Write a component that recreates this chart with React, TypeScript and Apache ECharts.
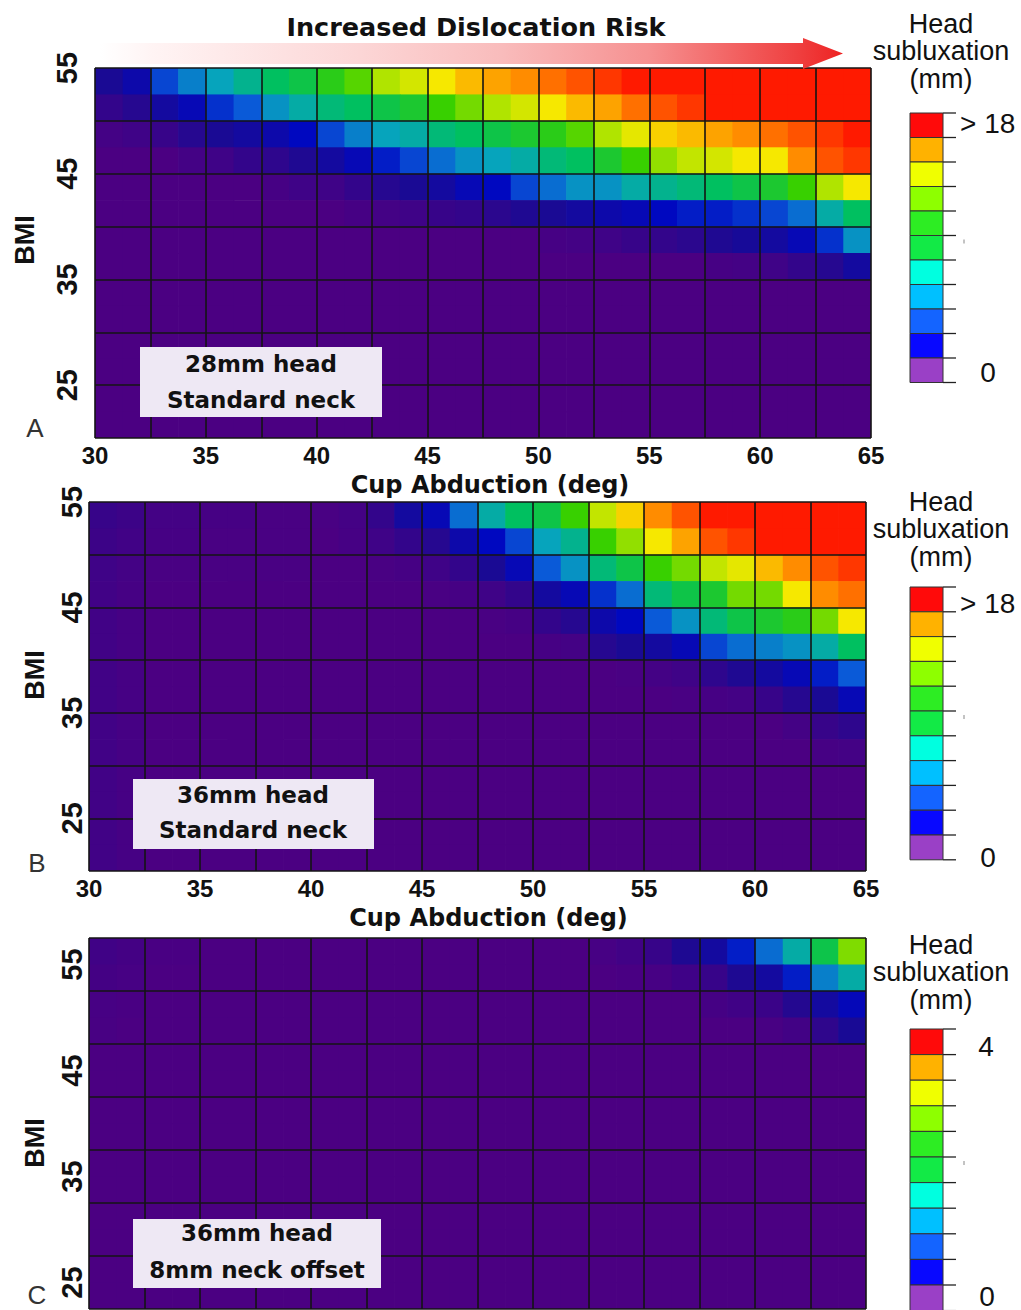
import React, { useEffect, useRef } from 'react';
import * as echarts from 'echarts';

// Sub-cell centres (cup abduction, deg) and BMI rows (top to bottom)
const cupAbduction = [30.625, 31.875, 33.125, 34.375, 35.625, 36.875, 38.125, 39.375, 40.625, 41.875, 43.125, 44.375, 45.625, 46.875, 48.125, 49.375, 50.625, 51.875, 53.125, 54.375, 55.625, 56.875, 58.125, 59.375, 60.625, 61.875, 63.125, 64.375];
const bmiRowsAB = [53.75, 51.25, 48.75, 46.25, 43.75, 41.25, 38.75, 36.25, 33.75, 31.25, 28.75, 26.25, 23.75, 21.25];
const bmiRowsC = [56.25, 53.75, 51.25, 48.75, 46.25, 43.75, 41.25, 38.75, 36.25, 33.75, 31.25, 28.75, 26.25, 23.75];

const xTicks = [30, 35, 40, 45, 50, 55, 60, 65];
const yTicks = [25, 35, 45, 55];

// Panel A: 28mm head, standard neck (head subluxation, mm)
const subluxationA = [
  [2, 3, 5.5, 7, 8, 9, 10, 10.5, 11.5, 12.5, 14, 15, 16, 17, 17.5, 18, 18.5, 19, 19.5, 20, 20, 20, 20, 20, 20, 20, 20, 20],
  [1, 1.5, 2.5, 3.5, 5, 6, 7.5, 8.5, 9.5, 10, 10.5, 11, 12, 13, 14, 15, 16, 17, 17.5, 18.5, 19, 19.5, 20, 20, 20, 20, 20, 20],
  [0.3, 0.5, 0.8, 1.5, 2, 2.5, 3, 4, 5.5, 7, 8, 8.5, 9.5, 10, 10.5, 11, 11.5, 12.5, 14, 15.5, 16.5, 17, 17.5, 18, 18.5, 19, 19.5, 20],
  [0, 0, 0, 0.3, 0.5, 1, 1.2, 1.8, 2.5, 3.5, 4.5, 5.5, 6.5, 7.5, 8, 8.5, 9.5, 10, 11, 12, 13.5, 14.5, 15, 16, 16, 18, 19, 19.5],
  [0, 0, 0, 0, 0, 0, 0.2, 0.5, 0.5, 1, 1.5, 2, 2.5, 3.5, 4, 5.5, 6.5, 7.5, 7.5, 8.5, 9, 9.5, 10, 10.5, 11, 12, 14, 16],
  [0, 0, 0, 0, 0, 0, 0, 0, 0, 0.2, 0.3, 0.5, 0.8, 1, 1.3, 1.8, 2, 2.5, 3, 3.5, 4, 4.5, 4.5, 5, 5.5, 6.5, 8.5, 10],
  [0, 0, 0, 0, 0, 0, 0, 0, 0, 0, 0, 0, 0, 0, 0, 0, 0.2, 0.3, 0.5, 0.8, 1, 1.3, 1.8, 2.2, 2.5, 3.5, 5, 7.5],
  [0, 0, 0, 0, 0, 0, 0, 0, 0, 0, 0, 0, 0, 0, 0, 0, 0, 0, 0, 0, 0, 0, 0.2, 0.3, 0.5, 1, 1.5, 2.5],
  [0, 0, 0, 0, 0, 0, 0, 0, 0, 0, 0, 0, 0, 0, 0, 0, 0, 0, 0, 0, 0, 0, 0, 0, 0, 0, 0, 0],
  [0, 0, 0, 0, 0, 0, 0, 0, 0, 0, 0, 0, 0, 0, 0, 0, 0, 0, 0, 0, 0, 0, 0, 0, 0, 0, 0, 0],
  [0, 0, 0, 0, 0, 0, 0, 0, 0, 0, 0, 0, 0, 0, 0, 0, 0, 0, 0, 0, 0, 0, 0, 0, 0, 0, 0, 0],
  [0, 0, 0, 0, 0, 0, 0, 0, 0, 0, 0, 0, 0, 0, 0, 0, 0, 0, 0, 0, 0, 0, 0, 0, 0, 0, 0, 0],
  [0, 0, 0, 0, 0, 0, 0, 0, 0, 0, 0, 0, 0, 0, 0, 0, 0, 0, 0, 0, 0, 0, 0, 0, 0, 0, 0, 0],
  [0, 0, 0, 0, 0, 0, 0, 0, 0, 0, 0, 0, 0, 0, 0, 0, 0, 0, 0, 0, 0, 0, 0, 0, 0, 0, 0, 0],
];

// Panel B: 36mm head, standard neck
const subluxationB = [
  [0.8, 0.6, 0.3, 0.3, 0.2, 0.2, 0.1, 0.1, 0.1, 0.3, 1, 2.5, 3.5, 6.5, 8.5, 10, 10.5, 12, 14.5, 16.5, 18, 19, 20, 20, 20, 20, 20, 20],
  [0.6, 0.4, 0.2, 0.2, 0.1, 0.1, 0.1, 0.1, 0, 0.2, 0.5, 1, 1.5, 3, 4, 5.5, 8, 9, 12, 13.5, 16, 17.5, 19, 19.5, 20, 20, 20, 20],
  [0.5, 0.3, 0.1, 0.1, 0.1, 0.1, 0.1, 0.1, 0, 0, 0.1, 0.2, 0.5, 1, 2, 3.5, 6, 7.5, 9.5, 10.5, 12, 13, 14.5, 15.5, 17, 18, 19, 19.5],
  [0.4, 0.2, 0, 0, 0, 0, 0, 0, 0, 0, 0, 0, 0.1, 0.2, 0.5, 1, 2.5, 3.5, 5, 6.5, 9.5, 10.5, 11, 13, 13, 16, 18, 18.5],
  [0.4, 0.2, 0, 0, 0, 0, 0, 0, 0, 0, 0, 0, 0, 0, 0.1, 0.2, 1, 1.5, 3, 4, 6, 7.5, 9.5, 10.5, 11, 11.5, 13, 16],
  [0.4, 0.2, 0, 0, 0, 0, 0, 0, 0, 0, 0, 0, 0, 0, 0, 0, 0.2, 0.3, 1.5, 2, 2.5, 3.5, 5.5, 6.5, 7, 7.5, 8.5, 10],
  [0.4, 0.2, 0, 0, 0, 0, 0, 0, 0, 0, 0, 0, 0, 0, 0, 0, 0, 0, 0, 0.1, 0.3, 0.5, 1.2, 1.8, 2.5, 3.5, 4.5, 6],
  [0.4, 0.2, 0, 0, 0, 0, 0, 0, 0, 0, 0, 0, 0, 0, 0, 0, 0, 0, 0, 0, 0, 0.1, 0.2, 0.3, 0.8, 1.5, 2, 3.5],
  [0.4, 0.2, 0, 0, 0, 0, 0, 0, 0, 0, 0, 0, 0, 0, 0, 0, 0, 0, 0, 0, 0, 0, 0, 0, 0, 0.3, 0.8, 1.2],
  [0.4, 0.2, 0, 0, 0, 0, 0, 0, 0, 0, 0, 0, 0, 0, 0, 0, 0, 0, 0, 0, 0, 0, 0, 0, 0, 0, 0.2, 0.3],
  [0.4, 0.2, 0, 0, 0, 0, 0, 0, 0, 0, 0, 0, 0, 0, 0, 0, 0, 0, 0, 0, 0, 0, 0, 0, 0, 0, 0, 0],
  [0.4, 0.2, 0, 0, 0, 0, 0, 0, 0, 0, 0, 0, 0, 0, 0, 0, 0, 0, 0, 0, 0, 0, 0, 0, 0, 0, 0, 0],
  [0.4, 0.2, 0, 0, 0, 0, 0, 0, 0, 0, 0, 0, 0, 0, 0, 0, 0, 0, 0, 0, 0, 0, 0, 0, 0, 0, 0, 0],
  [0.4, 0.2, 0, 0, 0, 0, 0, 0, 0, 0, 0, 0, 0, 0, 0, 0, 0, 0, 0, 0, 0, 0, 0, 0, 0, 0, 0, 0],
];

// Panel C: 36mm head, 8mm neck offset
const subluxationC = [
  [0.1, 0.06, 0.02, 0.02, 0, 0, 0, 0, 0, 0, 0, 0, 0, 0, 0, 0, 0, 0, 0.04, 0.09, 0.18, 0.4, 0.55, 1.0, 1.43, 1.87, 2.3, 2.9],
  [0.06, 0.04, 0, 0, 0, 0, 0, 0, 0, 0, 0, 0, 0, 0, 0, 0, 0, 0, 0, 0.02, 0.04, 0.11, 0.18, 0.4, 0.55, 0.99, 1.54, 1.87],
  [0.04, 0.02, 0, 0, 0, 0, 0, 0, 0, 0, 0, 0, 0, 0, 0, 0, 0, 0, 0, 0, 0, 0, 0.05, 0.1, 0.15, 0.35, 0.55, 0.8],
  [0.03, 0, 0, 0, 0, 0, 0, 0, 0, 0, 0, 0, 0, 0, 0, 0, 0, 0, 0, 0, 0, 0, 0, 0, 0.03, 0.08, 0.25, 0.45],
  [0, 0, 0, 0, 0, 0, 0, 0, 0, 0, 0, 0, 0, 0, 0, 0, 0, 0, 0, 0, 0, 0, 0, 0, 0, 0, 0, 0],
  [0, 0, 0, 0, 0, 0, 0, 0, 0, 0, 0, 0, 0, 0, 0, 0, 0, 0, 0, 0, 0, 0, 0, 0, 0, 0, 0, 0],
  [0, 0, 0, 0, 0, 0, 0, 0, 0, 0, 0, 0, 0, 0, 0, 0, 0, 0, 0, 0, 0, 0, 0, 0, 0, 0, 0, 0],
  [0, 0, 0, 0, 0, 0, 0, 0, 0, 0, 0, 0, 0, 0, 0, 0, 0, 0, 0, 0, 0, 0, 0, 0, 0, 0, 0, 0],
  [0, 0, 0, 0, 0, 0, 0, 0, 0, 0, 0, 0, 0, 0, 0, 0, 0, 0, 0, 0, 0, 0, 0, 0, 0, 0, 0, 0],
  [0, 0, 0, 0, 0, 0, 0, 0, 0, 0, 0, 0, 0, 0, 0, 0, 0, 0, 0, 0, 0, 0, 0, 0, 0, 0, 0, 0],
  [0, 0, 0, 0, 0, 0, 0, 0, 0, 0, 0, 0, 0, 0, 0, 0, 0, 0, 0, 0, 0, 0, 0, 0, 0, 0, 0, 0],
  [0, 0, 0, 0, 0, 0, 0, 0, 0, 0, 0, 0, 0, 0, 0, 0, 0, 0, 0, 0, 0, 0, 0, 0, 0, 0, 0, 0],
  [0, 0, 0, 0, 0, 0, 0, 0, 0, 0, 0, 0, 0, 0, 0, 0, 0, 0, 0, 0, 0, 0, 0, 0, 0, 0, 0, 0],
  [0, 0, 0, 0, 0, 0, 0, 0, 0, 0, 0, 0, 0, 0, 0, 0, 0, 0, 0, 0, 0, 0, 0, 0, 0, 0, 0, 0],
];

const heatColors = ['#4b0082', '#1a0a94', '#0008c0', '#0a5ad8', '#06a4bc', '#00c060', '#38d000', '#b0e400', '#f6e800', '#ff8c00', '#ff1a00'];
const legendColors = ['#ff0a0a', '#ffb200', '#f0ff00', '#8eff00', '#2ded23', '#12ea46', '#00ffe0', '#00c0ff', '#1464ff', '#0808ff', '#9a40c6'];
const legendTitle = ['Head', 'subluxation', '(mm)'];

const panelLabels = [
  ['28mm head', 'Standard neck'],
  ['36mm head', 'Standard neck'],
  ['36mm head', '8mm neck offset'],
];

const BOLD_NUM = 'Liberation Sans';
const BOLD_WORD = 'DejaVu Sans';

function toData(rows: number[][], bmi: number[]) {
  const out: number[][] = [];
  rows.forEach((row, r) => row.forEach((v, c) => out.push([cupAbduction[c], bmi[r], v])));
  return out;
}

const renderCell = (params: any, api: any) => {
  const x = api.value(0);
  const y = api.value(1);
  const a = api.coord([x - 0.625, y + 1.25]);
  const b = api.coord([x + 0.625, y - 1.25]);
  return {
    type: 'rect',
    shape: { x: a[0], y: a[1], width: b[0] - a[0] + 0.7, height: b[1] - a[1] + 0.7 },
    style: { fill: api.visual('color') },
  };
};

const gridLine = { show: true, lineStyle: { color: '#141414', width: 1.6 } };
const xFmt = (v: number) => (xTicks.includes(v) ? String(v) : '');
const yFmt = (v: number) => (yTicks.includes(v) ? String(v) : '');

function xAxis(gridIndex: number, showLabels: boolean, namePad: number) {
  return {
    gridIndex,
    type: 'value',
    position: 'bottom',
    min: 30,
    max: 65,
    interval: 2.5,
    z: 5,
    axisLine: { show: false },
    axisTick: { show: false },
    splitLine: gridLine,
    axisLabel: {
      show: showLabels,
      formatter: xFmt,
      fontFamily: BOLD_NUM,
      fontWeight: 'bold',
      fontSize: 24,
      color: '#111',
      margin: 5,
    },
    name: showLabels ? 'Cup Abduction (deg)' : '',
    nameLocation: 'middle',
    nameGap: 35,
    nameTextStyle: {
      fontFamily: BOLD_WORD,
      fontWeight: 'bold',
      fontSize: 24,
      color: '#111',
      padding: [0, 0, 0, namePad],
    },
  };
}

function yAxis(gridIndex: number, opts: any) {
  return {
    gridIndex,
    type: 'value',
    position: 'left',
    offset: 0,
    min: opts.min,
    max: opts.max,
    interval: opts.interval,
    z: 5,
    axisLine: { show: false },
    axisTick: { show: false },
    splitLine: opts.grid ? gridLine : { show: false },
    axisLabel: {
      show: opts.labels,
      rotate: 90,
      formatter: yFmt,
      fontFamily: BOLD_NUM,
      fontWeight: 'bold',
      fontSize: 29,
      color: '#111',
      margin: opts.margin,
    },
    name: opts.name ? 'BMI' : '',
    nameLocation: 'middle',
    nameRotate: 90,
    nameGap: opts.nameGap,
    nameTextStyle: {
      fontFamily: BOLD_NUM,
      fontWeight: 'bold',
      fontSize: 27,
      color: '#111',
      padding: opts.namePad,
    },
  };
}

function colorbar(top: number, blockH: number, topLabel: string, topX: number, topY: number, topAlign: string, zeroX: number, zeroY: number, titleY: number) {
  const els: any[] = [];
  legendTitle.forEach((t, i) => {
    els.push({
      type: 'text', x: 941, y: titleY + (i - 1) * 27.5, z: 100,
      style: { text: t, align: 'center', verticalAlign: 'middle', fontFamily: 'Liberation Sans', fontSize: 27, fill: '#111' },
    });
  });
  legendColors.forEach((c, i) => {
    els.push({
      type: 'rect', z: 100,
      shape: { x: 910, y: top + i * blockH, width: 33, height: blockH },
      style: { fill: c, stroke: '#333', lineWidth: 1 },
    });
  });
  for (let i = 0; i <= legendColors.length; i++) {
    els.push({
      type: 'line', z: 100,
      shape: { x1: 943, y1: top + i * blockH, x2: 956, y2: top + i * blockH },
      style: { stroke: '#222', lineWidth: 1.3 },
    });
  }
  els.push({
    type: 'line', z: 100,
    shape: { x1: 964, y1: top + 5 * blockH + 4, x2: 964, y2: top + 5 * blockH + 8 },
    style: { stroke: '#888', lineWidth: 1 },
  });
  els.push({
    type: 'text', x: topX, y: topY, z: 100,
    style: { text: topLabel, align: topAlign, verticalAlign: 'middle', fontFamily: 'Liberation Sans', fontSize: 28, fill: '#111' },
  });
  els.push({
    type: 'text', x: zeroX, y: zeroY, z: 100,
    style: { text: '0', align: 'center', verticalAlign: 'middle', fontFamily: 'Liberation Sans', fontSize: 28, fill: '#111' },
  });
  return els;
}

function labelBox(x: number, y: number, w: number, h: number, cx: number, y1: number, y2: number, lines: string[]) {
  return [
    { type: 'rect', z: 100, shape: { x, y, width: w, height: h }, style: { fill: '#eee8f4' } },
    { type: 'text', x: cx, y: y1, z: 101, style: { text: lines[0], align: 'center', verticalAlign: 'middle', fontFamily: BOLD_WORD, fontWeight: 'bold', fontSize: 23, fill: '#111' } },
    { type: 'text', x: cx, y: y2, z: 101, style: { text: lines[1], align: 'center', verticalAlign: 'middle', fontFamily: BOLD_WORD, fontWeight: 'bold', fontSize: 23, fill: '#111' } },
  ];
}

function panelLetter(letter: string, x: number, y: number) {
  return { type: 'text', x, y, z: 100, style: { text: letter, align: 'center', verticalAlign: 'middle', fontFamily: 'Liberation Sans', fontSize: 26, fill: '#333' } };
}

function buildOption() {
  const graphics: any[] = [
    {
      type: 'polygon', z: 90,
      shape: { points: [[100, 43], [803, 43], [803, 38], [843, 53.5], [803, 69], [803, 64], [100, 64]] },
      style: {
        fill: {
          type: 'linear', x: 0, y: 0, x2: 1, y2: 0,
          colorStops: [
            { offset: 0, color: '#ffffff' },
            { offset: 0.07, color: '#fff4f4' },
            { offset: 0.35, color: '#fcd6d6' },
            { offset: 0.54, color: '#f9bcbc' },
            { offset: 0.74, color: '#f69090' },
            { offset: 0.94, color: '#ef3f3f' },
            { offset: 1, color: '#ee2222' },
          ],
        },
      },
    },
    {
      type: 'text', x: 476, y: 27, z: 100,
      style: { text: 'Increased Dislocation Risk', align: 'center', verticalAlign: 'middle', fontFamily: BOLD_WORD, fontWeight: 'bold', fontSize: 25.5, fill: '#111' },
    },
    ...colorbar(113, 24.5, '> 18', 960, 123, 'left', 988, 372, 51),
    ...colorbar(587, 24.8, '> 18', 960, 603, 'left', 988, 857, 529),
    ...colorbar(1029, 25.6, '4', 986, 1046, 'center', 987, 1296, 972),
    ...labelBox(140, 347, 242, 70, 261, 364, 400, panelLabels[0]),
    ...labelBox(133, 779, 241, 70, 253, 795, 830, panelLabels[1]),
    ...labelBox(133, 1219, 248, 69, 257, 1233, 1270, panelLabels[2]),
    panelLetter('A', 35, 428),
    panelLetter('B', 37, 863),
    panelLetter('C', 37, 1295),
  ];

  return {
    animation: false,
    backgroundColor: '#ffffff',
    grid: [
      { left: 95, top: 68, width: 776, height: 370, containLabel: false, outerBoundsMode: 'none' },
      { left: 89, top: 502, width: 777, height: 369, containLabel: false, outerBoundsMode: 'none' },
      { left: 89, top: 938, width: 777, height: 371, containLabel: false, outerBoundsMode: 'none' },
    ],
    xAxis: [xAxis(0, true, 14), xAxis(1, true, 22), xAxis(2, false, 0)],
    yAxis: [
      yAxis(0, { min: 20, max: 55, interval: 5, grid: true, labels: true, margin: 13.5, name: true, nameGap: 56.5, namePad: [0, 0, 0, 26] }),
      yAxis(1, { min: 20, max: 55, interval: 5, grid: true, labels: true, margin: 2.5, name: true, nameGap: 40.5, namePad: [0, 0, 0, 23] }),
      yAxis(2, { min: 22.5, max: 57.5, interval: 5, grid: true, labels: false, margin: 2.5, name: true, nameGap: 40.5, namePad: [0, 39, 0, 0] }),
      yAxis(2, { min: 22.5, max: 57.5, interval: 2.5, grid: false, labels: true, margin: 2.5, name: false, nameGap: 0, namePad: 0 }),
    ],
    visualMap: [
      { type: 'continuous', show: false, seriesIndex: [0, 1], dimension: 2, min: 0, max: 20, inRange: { color: heatColors } },
      { type: 'continuous', show: false, seriesIndex: [2], dimension: 2, min: 0, max: 4.4, inRange: { color: heatColors } },
    ],
    series: [
      { type: 'custom', name: '28mm head, standard neck', xAxisIndex: 0, yAxisIndex: 0, renderItem: renderCell, encode: { x: 0, y: 1 }, data: toData(subluxationA, bmiRowsAB), z: 2, clip: true, silent: true },
      { type: 'custom', name: '36mm head, standard neck', xAxisIndex: 1, yAxisIndex: 1, renderItem: renderCell, encode: { x: 0, y: 1 }, data: toData(subluxationB, bmiRowsAB), z: 2, clip: true, silent: true },
      { type: 'custom', name: '36mm head, 8mm neck offset', xAxisIndex: 2, yAxisIndex: 2, renderItem: renderCell, encode: { x: 0, y: 1 }, data: toData(subluxationC, bmiRowsC), z: 2, clip: true, silent: true },
    ],
    graphic: graphics,
  };
}

export default function App() {
  const ref = useRef<HTMLDivElement>(null);
  useEffect(() => {
    if (!ref.current) return;
    const chart = echarts.init(ref.current, null, { renderer: 'svg' });
    chart.setOption(buildOption() as any);
    return () => chart.dispose();
  }, []);
  return (
    <div
      ref={ref}
      style={{ position: 'absolute', left: 0, top: 0, width: 1021, height: 1310, background: '#fff' }}
    />
  );
}
